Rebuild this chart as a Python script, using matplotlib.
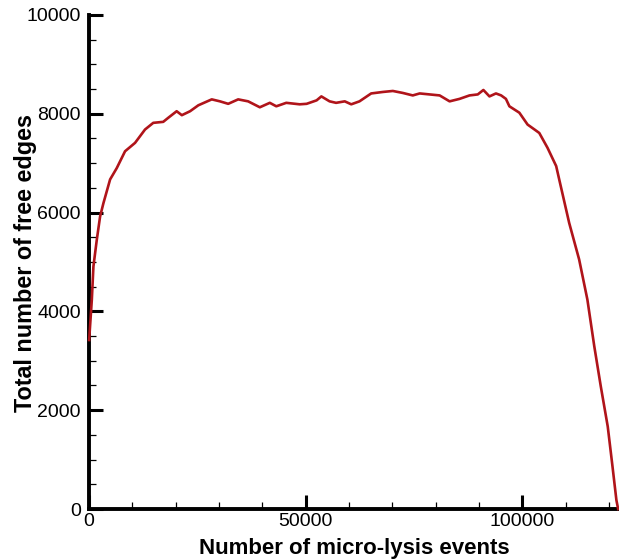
import matplotlib
matplotlib.use("Agg")
import matplotlib.pyplot as plt
from matplotlib.ticker import MultipleLocator

# Data
events = [0, 620, 990, 1770, 2530, 3300, 4840, 6380, 8290, 10600, 12900,
          14800, 17100, 18300, 20200, 21400, 23300, 25200, 28300, 30200,
          32100, 34400, 36700, 39400, 41700, 43200, 45500, 48600, 50200,
          52500, 53600, 55500, 57000, 59000, 60500, 62400, 65100, 67800,
          70100, 72400, 74700, 76300, 78600, 80900, 83200, 85500, 87800,
          89700, 91000, 92400, 93900, 95100, 96200, 97000, 99300, 101200,
          102800, 103900, 105800, 107800, 108500, 110800, 113100, 115000,
          116600, 118100, 119700, 120800, 121700, 122100]
free_edges = [3420, 4235, 4910, 5450, 5920, 6190, 6670, 6900, 7240, 7410, 7680,
              7815, 7835, 7920, 8050, 7970, 8050, 8170, 8290, 8250,
              8200, 8290, 8250, 8130, 8220, 8150, 8220, 8190, 8200,
              8270, 8350, 8250, 8220, 8250, 8190, 8250, 8410, 8440,
              8460, 8420, 8370, 8410, 8390, 8370, 8250, 8300, 8370,
              8390, 8480, 8350, 8410, 8370, 8300, 8150, 8020, 7780,
              7680, 7610, 7310, 6940, 6670, 5790, 5050, 4240,
              3290, 2480, 1670, 860, 180, 0]

x_label = "Number of micro-lysis events"
y_label = "Total number of free edges"

plt.rcParams['font.family'] = ['Liberation Sans', 'DejaVu Sans']

fig = plt.figure(figsize=(6.19, 5.59), dpi=100)
ax = fig.add_axes([0.144, 0.0894, 0.856, 0.884])

ax.plot(events, free_edges, color='#b0141a', linewidth=1.9, clip_on=False, zorder=3)

ax.set_xlim(0, 122300)
ax.set_ylim(0, 10000)

ax.xaxis.set_major_locator(MultipleLocator(50000))
ax.xaxis.set_minor_locator(MultipleLocator(10000))
ax.yaxis.set_major_locator(MultipleLocator(2000))
ax.yaxis.set_minor_locator(MultipleLocator(500))

for s in ['top', 'right']:
    ax.spines[s].set_visible(False)
for s in ['left', 'bottom']:
    ax.spines[s].set_linewidth(2.8)
    ax.spines[s].set_color('black')

ax.tick_params(axis='both', which='major', direction='in', length=10, width=2.2,
               labelsize=14, colors='black')
ax.tick_params(axis='both', which='minor', direction='in', length=5, width=0.9)
ax.tick_params(axis='y', which='major', pad=6)
ax.tick_params(axis='x', which='major', pad=3)

ax.set_xlabel(x_label, fontsize=16, fontweight='bold')
ax.set_ylabel(y_label, fontsize=16.8, fontweight='bold')
ax.xaxis.set_label_coords(0.5, -0.058)
ax.yaxis.set_label_coords(-0.098, 0.497)

fig.savefig("out.png", dpi=100, facecolor='white')
